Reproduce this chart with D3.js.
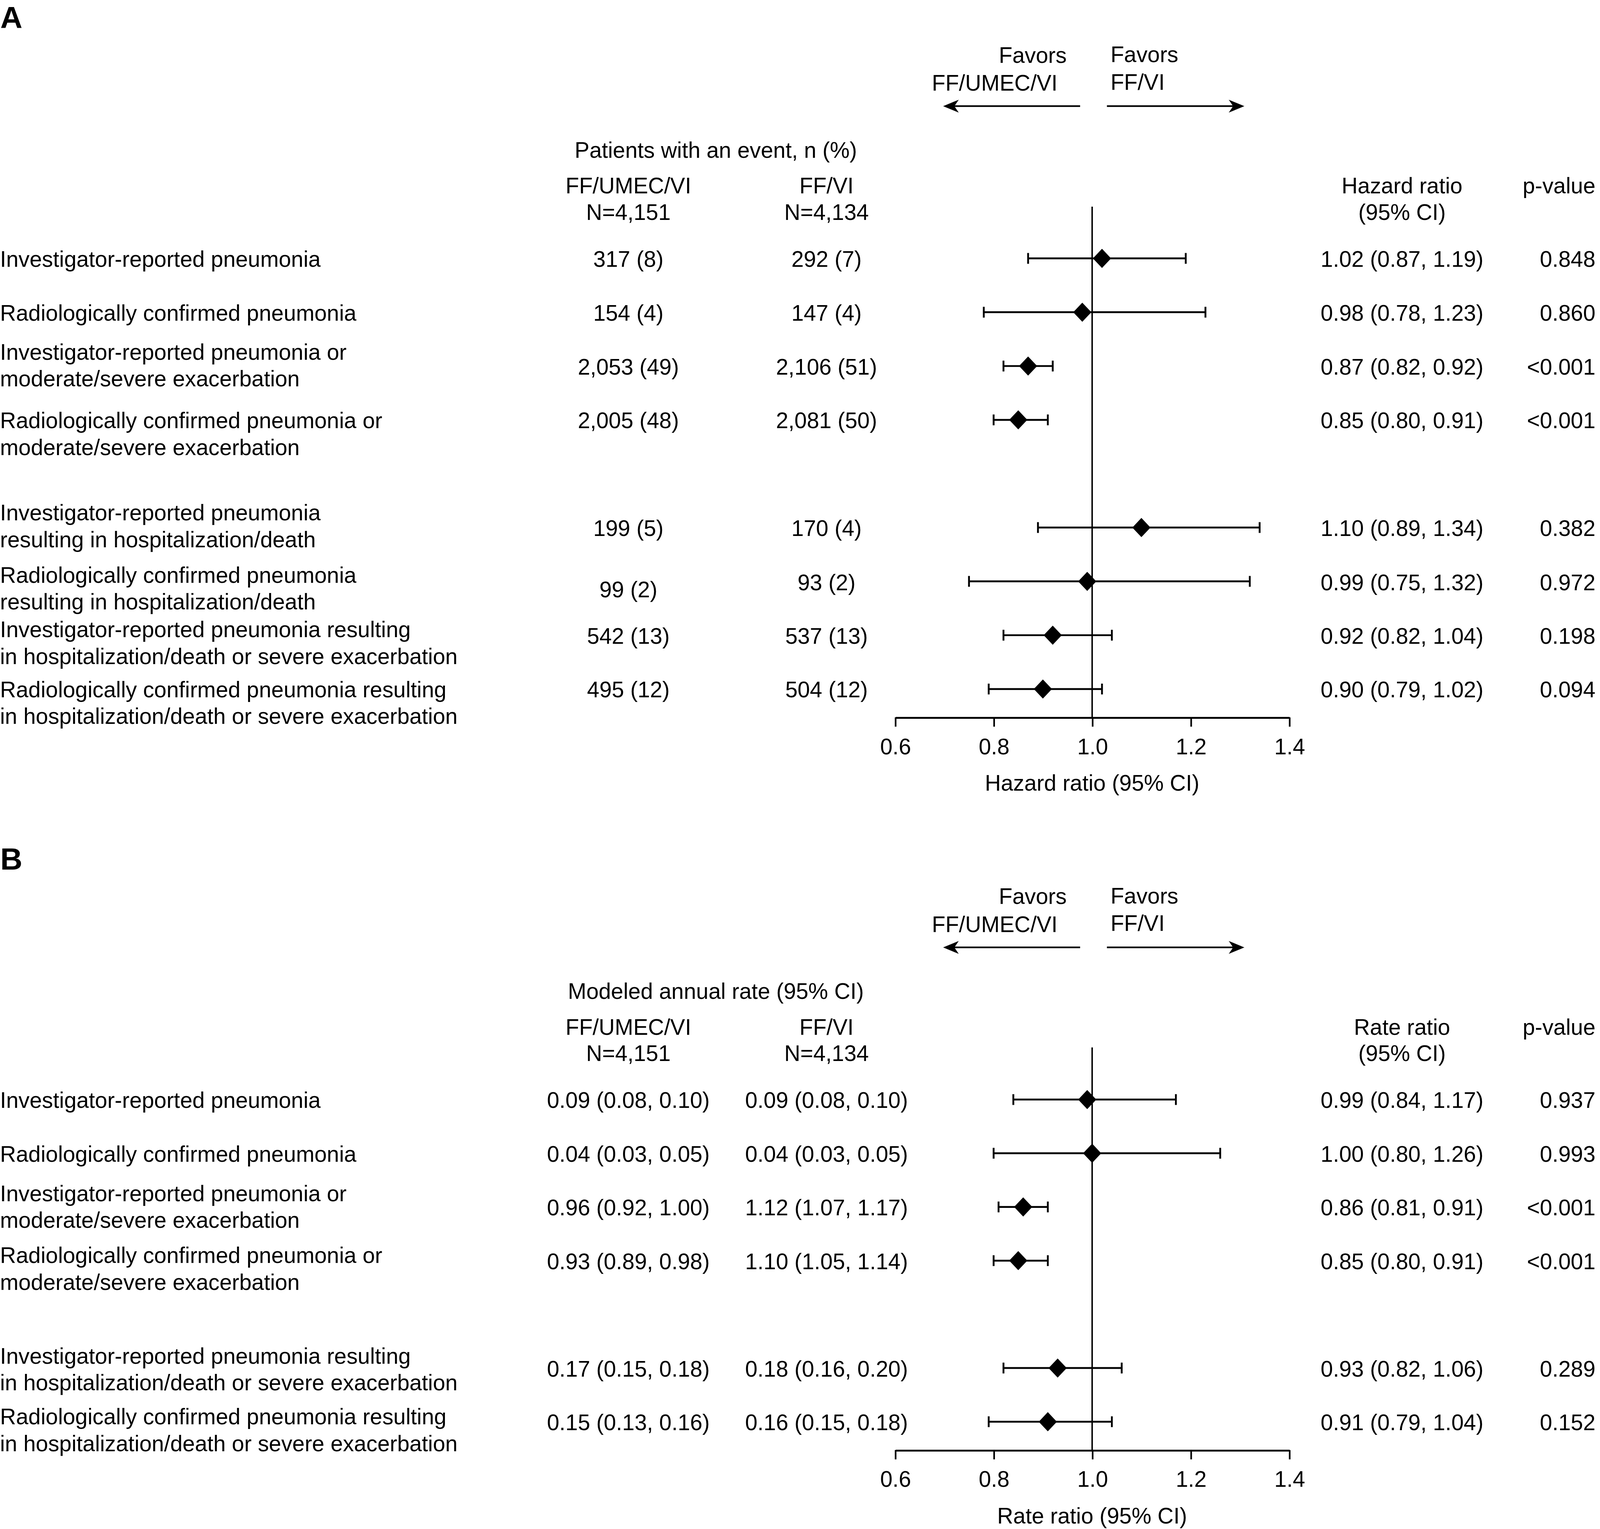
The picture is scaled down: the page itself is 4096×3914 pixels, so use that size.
<!DOCTYPE html>
<html><head><meta charset="utf-8">
<script src="https://cdn.jsdelivr.net/npm/d3@7"></script>
<style>
html,body{margin:0;padding:0;background:#fff;}
svg{display:block;}
text{font-family:"Liberation Sans",Arial,Helvetica,sans-serif;fill:#000;}
</style></head><body>
<script>
// ---------------- DATA ----------------
const labelsA = [
  ["Investigator-reported pneumonia"],
  ["Radiologically confirmed pneumonia"],
  ["Investigator-reported pneumonia or", "moderate/severe exacerbation"],
  ["Radiologically confirmed pneumonia or", "moderate/severe exacerbation"],
  ["Investigator-reported pneumonia", "resulting in hospitalization/death"],
  ["Radiologically confirmed pneumonia", "resulting in hospitalization/death"],
  ["Investigator-reported pneumonia resulting", "in hospitalization/death or severe exacerbation"],
  ["Radiologically confirmed pneumonia resulting", "in hospitalization/death or severe exacerbation"]
];
const eventsTripleA = ["317 (8)", "154 (4)", "2,053 (49)", "2,005 (48)", "199 (5)", "99 (2)", "542 (13)", "495 (12)"];
const eventsDualA   = ["292 (7)", "147 (4)", "2,106 (51)", "2,081 (50)", "170 (4)", "93 (2)", "537 (13)", "504 (12)"];
const hrA   = [1.02, 0.98, 0.87, 0.85, 1.10, 0.99, 0.92, 0.90];
const hrLoA = [0.87, 0.78, 0.82, 0.80, 0.89, 0.75, 0.82, 0.79];
const hrHiA = [1.19, 1.23, 0.92, 0.91, 1.34, 1.32, 1.04, 1.02];
const pA    = ["0.848", "0.860", "<0.001", "<0.001", "0.382", "0.972", "0.198", "0.094"];

const labelsB = [
  ["Investigator-reported pneumonia"],
  ["Radiologically confirmed pneumonia"],
  ["Investigator-reported pneumonia or", "moderate/severe exacerbation"],
  ["Radiologically confirmed pneumonia or", "moderate/severe exacerbation"],
  ["Investigator-reported pneumonia resulting", "in hospitalization/death or severe exacerbation"],
  ["Radiologically confirmed pneumonia resulting", "in hospitalization/death or severe exacerbation"]
];
const rateTripleB = ["0.09 (0.08, 0.10)", "0.04 (0.03, 0.05)", "0.96 (0.92, 1.00)", "0.93 (0.89, 0.98)", "0.17 (0.15, 0.18)", "0.15 (0.13, 0.16)"];
const rateDualB   = ["0.09 (0.08, 0.10)", "0.04 (0.03, 0.05)", "1.12 (1.07, 1.17)", "1.10 (1.05, 1.14)", "0.18 (0.16, 0.20)", "0.16 (0.15, 0.18)"];
const rrB   = [0.99, 1.00, 0.86, 0.85, 0.93, 0.91];
const rrLoB = [0.84, 0.80, 0.81, 0.80, 0.82, 0.79];
const rrHiB = [1.17, 1.26, 0.91, 0.91, 1.06, 1.04];
const pB    = ["0.937", "0.993", "<0.001", "<0.001", "0.289", "0.152"];

const axisTicks = [0.6, 0.8, 1.0, 1.2, 1.4];
const treatments = ["FF/UMEC/VI", "FF/VI"];
const groupN = ["N=4,151", "N=4,134"];

// ---------------- LAYOUT ----------------
const W = 4096, H = 3914, S = W / 1568;
const FS = 21.75, BASE = 7.5, LINE = 26.3;
const COL1 = 615.8, COL2 = 810, COLR = 1374, COLP = 1563.5;
const f2 = d3.format(".2f");

const svg = d3.select("body").append("svg").attr("width", W).attr("height", H);
svg.append("rect").attr("width", W).attr("height", H).attr("fill", "#fff");
const root = svg.append("g").attr("transform", `scale(${S})`);

const x = d3.scaleLinear().domain([0.6, 1.4]).range([877.2, 1263.4]);

function txt(g, xp, yc, s, anchor, extra) {
  const t = g.append("text").attr("x", xp).attr("y", yc + BASE)
    .attr("font-size", FS).attr("text-anchor", anchor || "start").text(s);
  if (extra) extra(t);
  return t;
}

function arrowHead(tipX, y, dir) {
  const L = 15.3, Hh = 6.3, N = 11.0;
  return `M${tipX},${y}L${tipX - dir * L},${y - Hh}L${tipX - dir * N},${y}L${tipX - dir * L},${y + Hh}Z`;
}

function drawPanel(cfg) {
  const top = root.append("g").attr("transform", `translate(0,${cfg.dy})`);
  top.append("text").attr("x", 0.3).attr("y", 27.6).attr("font-size", 30)
    .attr("font-weight", "bold").text(cfg.letter);
  txt(top, 1045.3, 61.5 - BASE, "Favors", "end");
  txt(top, 1036.4, 89 - BASE, treatments[0], "end");
  txt(top, 1088.3, 61 - BASE, "Favors", "start");
  txt(top, 1088.3, 88 - BASE, treatments[1], "start");
  const ay = 104;
  const arrows = [[0.9756, 0.6975, -1], [1.0300, 1.3090, 1]];
  arrows.forEach(([from, to, dir]) => {
    const tip = x(to);
    top.append("line").attr("x1", x(from)).attr("x2", tip - dir * 10).attr("y1", ay).attr("y2", ay)
      .attr("stroke", "#000").attr("stroke-width", 1.6);
    top.append("path").attr("d", arrowHead(tip, ay, dir)).attr("fill", "#000");
  });
  txt(top, 701.5, 154.5 - BASE, cfg.title, "middle");
  txt(top, COL1, 189.5 - BASE, treatments[0], "middle");
  txt(top, COL1, 215.5 - BASE, groupN[0], "middle");
  txt(top, COL2, 189.5 - BASE, treatments[1], "middle");
  txt(top, COL2, 215.5 - BASE, groupN[1], "middle");
  txt(top, COLR, 189.5 - BASE, cfg.ratioName, "middle");
  txt(top, COLR, 215.5 - BASE, "(95% CI)", "middle");
  txt(top, COLP, 189.5 - BASE, "p-value", "end");

  const y = d3.scalePoint().domain(cfg.rowKeys).range(cfg.rowRange);
  const key = i => "r" + i;
  const g = root.append("g");

  cfg.labels.forEach((lines, i) => {
    lines.forEach((s, j) => txt(g, 0, y(key(i)) + cfg.labelOff[i] + j * LINE, s, "start"));
    txt(g, COL1, y(key(i)) + cfg.col1Nudge[i], cfg.col1[i], "middle");
    txt(g, COL2, y(key(i)) + cfg.col2Nudge[i], cfg.col2[i], "middle");
    txt(g, COLR, y(key(i)) + cfg.col2Nudge[i], `${f2(cfg.est[i])} (${f2(cfg.lo[i])}, ${f2(cfg.hi[i])})`, "middle");
    txt(g, COLP, y(key(i)) + cfg.col2Nudge[i], cfg.p[i], "end");
  });

  g.append("line").attr("x1", x(1)).attr("x2", x(1))
    .attr("y1", cfg.refTop).attr("y2", cfg.axisY)
    .attr("stroke", "#000").attr("stroke-width", 1.45);

  const marks = g.append("g");
  cfg.est.forEach((v, i) => {
    const cy = y(key(i)) - 0.8;
    const lo = x(cfg.lo[i]), hi = x(cfg.hi[i]), cx = x(v);
    marks.append("line").attr("x1", lo).attr("x2", hi).attr("y1", cy).attr("y2", cy)
      .attr("stroke", "#000").attr("stroke-width", 1.8);
    [lo, hi].forEach(xx => marks.append("line").attr("x1", xx).attr("x2", xx)
      .attr("y1", cy - 5.3).attr("y2", cy + 5.3).attr("stroke", "#000").attr("stroke-width", 1.8));
    const hw = 8.9, hh = 9.4;
    marks.append("path")
      .attr("d", `M${cx},${cy - hh}L${cx + hw},${cy}L${cx},${cy + hh}L${cx - hw},${cy}Z`)
      .attr("fill", "#000");
  });

  const ax = g.append("g").attr("transform", `translate(0,${cfg.axisY})`)
    .call(d3.axisBottom(x).tickValues(axisTicks).tickFormat(d3.format(".1f"))
      .tickSize(9.1).tickSizeOuter(0).tickPadding(11.5));
  ax.select(".domain").attr("stroke", "#000").attr("stroke-width", 1.8);
  ax.selectAll(".tick line").attr("stroke", "#000").attr("stroke-width", 1.6);
  ax.selectAll(".tick text").attr("font-size", FS)
    .attr("font-family", '"Liberation Sans",Arial,Helvetica,sans-serif').attr("fill", "#000");
  txt(g, x(1), cfg.axisY + 72 - BASE, cfg.axisTitle, "middle");
}

drawPanel({
  letter: "A", dy: 0,
  title: "Patients with an event, n (%)",
  ratioName: "Hazard ratio",
  axisTitle: "Hazard ratio (95% CI)",
  rowKeys: ["r0", "r1", "r2", "r3", "gap", "r4", "r5", "r6", "r7"],
  rowRange: [254, 676],
  labelOff: [0, 0, -14.6, 0, -15.2, -7, -6.3, -0.3],
  col1Nudge: [0, 0, 0, 0, 0, 7.5, 0, 0],
  col2Nudge: [0, 0, 0, 0, 0, 0.5, 0, 0],
  labels: labelsA, col1: eventsTripleA, col2: eventsDualA,
  est: hrA, lo: hrLoA, hi: hrHiA, p: pA,
  refTop: 202.5, axisY: 703
});

drawPanel({
  letter: "B", dy: 824.4,
  title: "Modeled annual rate (95% CI)",
  ratioName: "Rate ratio",
  axisTitle: "Rate ratio (95% CI)",
  rowKeys: ["r0", "r1", "r2", "r3", "gap", "r4", "r5"],
  rowRange: [1078.3, 1394],
  labelOff: [0, 0, -14, -6, -12.6, -5.7],
  col1Nudge: [0, 0, 0, 0, 0, 0],
  col2Nudge: [0, 0, 0, 0, 0, 0],
  labels: labelsB, col1: rateTripleB, col2: rateDualB,
  est: rrB, lo: rrLoB, hi: rrHiB, p: pB,
  refTop: 1026.4, axisY: 1421
});
</script>
</body></html>
